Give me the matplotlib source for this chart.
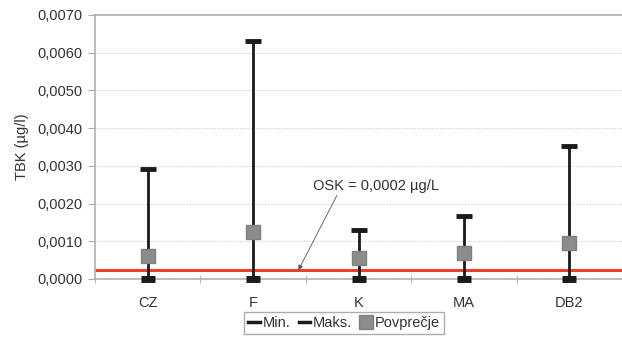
import matplotlib.pyplot as plt
import numpy as np
from matplotlib.lines import Line2D
from matplotlib.ticker import FuncFormatter, MultipleLocator

plt.rcParams['font.family'] = ['Liberation Sans', 'DejaVu Sans']

categories = ['CZ', 'F', 'K', 'MA', 'DB2']
v_min = [0.0, 0.0, 0.0, 0.0, 0.0]
v_max = [0.00292, 0.00631, 0.00130, 0.00168, 0.00353]
v_mean = [0.00061, 0.00125, 0.00056, 0.00069, 0.00095]
osk = 0.00025

x = np.arange(len(categories))
FS = 10.5

fig = plt.figure(figsize=(6.22, 3.38), dpi=100)
ax = fig.add_axes([95 / 622, 1 - 279 / 338, 527 / 622, 264 / 338])

# vertical range lines
ax.vlines(x, v_min, v_max, color='#1a1a1a', linewidth=2, zorder=3)
ax.plot(x, v_min, linestyle='none', marker='_', markersize=10, markeredgewidth=5,
        color='#1a1a1a', zorder=4, clip_on=False)
ax.plot(x, v_max, linestyle='none', marker='_', markersize=11, markeredgewidth=3.5,
        color='#1a1a1a', zorder=4)
ax.plot(x, v_mean, linestyle='none', marker='s', markersize=10, color='#8c8c8c',
        markeredgecolor='#808080', zorder=5)

ax.axhline(osk, color='#e8412c', linewidth=2.2, zorder=2)

ax.annotate('OSK = 0,0002 µg/L', xy=(1.43, osk * 0.95), xytext=(1.57, 0.00229),
            fontsize=FS, color='#333333', ha='left', va='bottom',
            arrowprops=dict(arrowstyle='-|>', color='#555555', lw=0.6,
                            mutation_scale=7, shrinkA=0, shrinkB=0,
                            relpos=(0.2, 0.0)))

ax.set_xlim(-0.5, len(categories) - 0.5)
ax.set_ylim(0, 0.007)
ax.yaxis.set_major_locator(MultipleLocator(0.001))
ax.yaxis.set_major_formatter(FuncFormatter(lambda v, p: f'{v:.4f}'.replace('.', ',')))
ax.set_xticks(x)
ax.set_xticklabels(categories)
ax.set_xticks(np.arange(-0.5, len(categories), 1.0), minor=True)
ax.tick_params(axis='x', which='major', length=0, pad=12, labelsize=FS, colors='#333333')
ax.tick_params(axis='x', which='minor', length=6, direction='inout', color='#aaaaaa')
ax.tick_params(axis='y', length=5, color='#aaaaaa', labelsize=FS, labelcolor='#333333', pad=4)

ax.grid(axis='y', linestyle=(0, (1, 1.5)), color='#cccccc', linewidth=0.8)
ax.set_axisbelow(True)

ax.spines['right'].set_visible(False)
for s in ['left', 'top', 'bottom']:
    ax.spines[s].set_color('#b0b0b0')
    ax.spines[s].set_linewidth(1.2)

ax.set_ylabel('TBK (µg/l)', fontsize=FS, color='#333333', labelpad=6)

handles = [
    Line2D([], [], color='#1a1a1a', linewidth=2.5),
    Line2D([], [], color='#1a1a1a', linewidth=2.5),
    Line2D([], [], linestyle='none', marker='s', markersize=10, color='#8c8c8c',
           markeredgecolor='#808080'),
]
leg = fig.legend(handles, ['Min.', 'Maks.', 'Povprečje'], loc='center',
                 bbox_to_anchor=(344 / 622, 1 - 323 / 338), ncol=3,
                 frameon=True, fancybox=False, edgecolor='#999999', fontsize=FS,
                 handlelength=0.8, handletextpad=0.15, columnspacing=0.6,
                 borderpad=0.3)
for t in leg.get_texts():
    t.set_color('#333333')

fig.savefig('out.png', dpi=100)
